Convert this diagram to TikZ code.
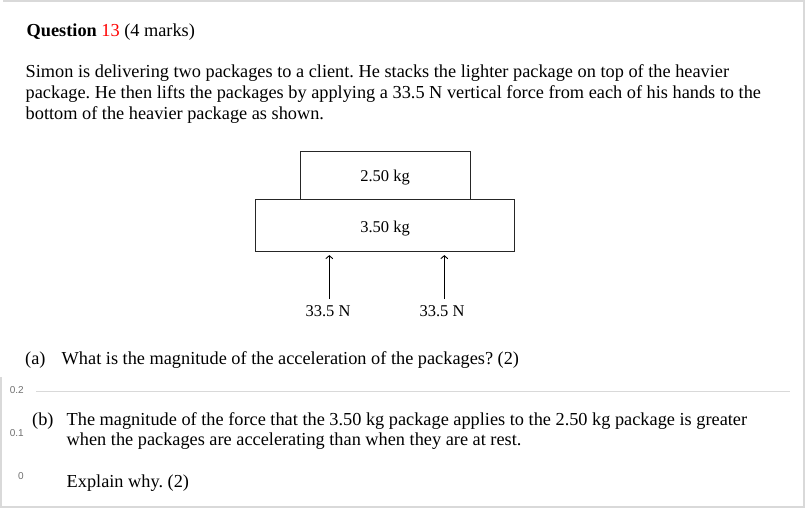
\documentclass[tikz,border=0pt]{standalone}
\usepackage{fontspec}
\setmainfont{Liberation Serif}
\newfontfamily\numfont{Liberation Sans}
\usetikzlibrary{arrows.meta}
\frenchspacing
\definecolor{frame}{HTML}{D9D9D9}
\definecolor{qred}{HTML}{FF0000}
\definecolor{numgray}{HTML}{707070}
\tikzset{
  txt/.style={anchor=base west, inner sep=0pt, font=\fontsize{18.3}{22}\selectfont},
  lbl/.style={anchor=base, inner sep=0pt, font=\fontsize{16.5}{20}\selectfont},
  pkg/.style={draw=black!85, line width=0.8pt, inner sep=0pt},
  force/.style={line width=1.4pt, -{Straight Barb[length=3pt,width=7pt,line width=0.9pt]}},
  scale num/.style={anchor=east, inner sep=0pt, text=numgray, font=\numfont\fontsize{10}{12}\selectfont},
  border/.style={draw=frame, line width=1.5pt},
}
\begin{document}
\begin{tikzpicture}[x=1pt,y=-1pt]
\useasboundingbox (0,0) rectangle (805,508);
% frame
\draw[border] (3,1) -- (805,1);
\draw[border] (804,0) -- (804,508);
\draw[border] (0,507) -- (805,507);
\draw[border] (1,377) -- (1,508);
\draw[draw=frame, line width=1pt] (36,391) -- (790,391);
% heading
\node[txt] (q) at (26.5,36.5) {\textbf{Question} \textcolor{qred}{13} (4 marks)};
\node[txt] (p1) at (25.5,78) {Simon is delivering two packages to a client. He stacks the lighter package on top of the heavier};
\node[txt] (p2) at (25.5,98.7) {package. He then lifts the packages by applying a 33.5 N vertical force from each of his hands to the};
\node[txt] (p3) at (25.5,119.3) {bottom of the heavier package as shown.};
% diagram
\node[pkg, minimum width=170pt, minimum height=47.6pt] (top) at (385.15,175.5) {};
\node[pkg, minimum width=259.3pt, minimum height=52.4pt] (low) at (384.65,225.5) {};
\node[lbl] (m1) at (385,181.7) {2.50 kg};
\node[lbl] (m2) at (385,232.7) {3.50 kg};
\node[lbl] (f1) at (328,316.7) {33.5 N};
\node[lbl] (f2) at (442,316.7) {33.5 N};
\coordinate (b1) at (329.3,299);
\coordinate (b2) at (444.3,299);
\draw[force] (b1) -- ([yshift=-3pt]b1 |- low.south);
\draw[force, line width=1.1pt] (b2) -- ([yshift=-3pt]b2 |- low.south);
% part (a)
\node[txt] (a) at (25,364) {(a)};
\node[txt] (at) at (61.5,364) {What is the magnitude of the acceleration of the packages? (2)};
% scale numbers
\node[scale num] (n2) at (24,390) {0.2};
\node[scale num] (n1) at (24,433) {0.1};
\node[scale num] (n0) at (24,476) {0};
% part (b)
\node[txt] (b) at (32,425) {(b)};
\node[txt] (bt1) at (66.5,425) {The magnitude of the force that the 3.50 kg package applies to the 2.50 kg package is greater};
\node[txt] (bt2) at (66.5,445) {when the packages are accelerating than when they are at rest.};
\node[txt] (bt3) at (66.5,487.5) {Explain why. (2)};
\end{tikzpicture}
\end{document}
